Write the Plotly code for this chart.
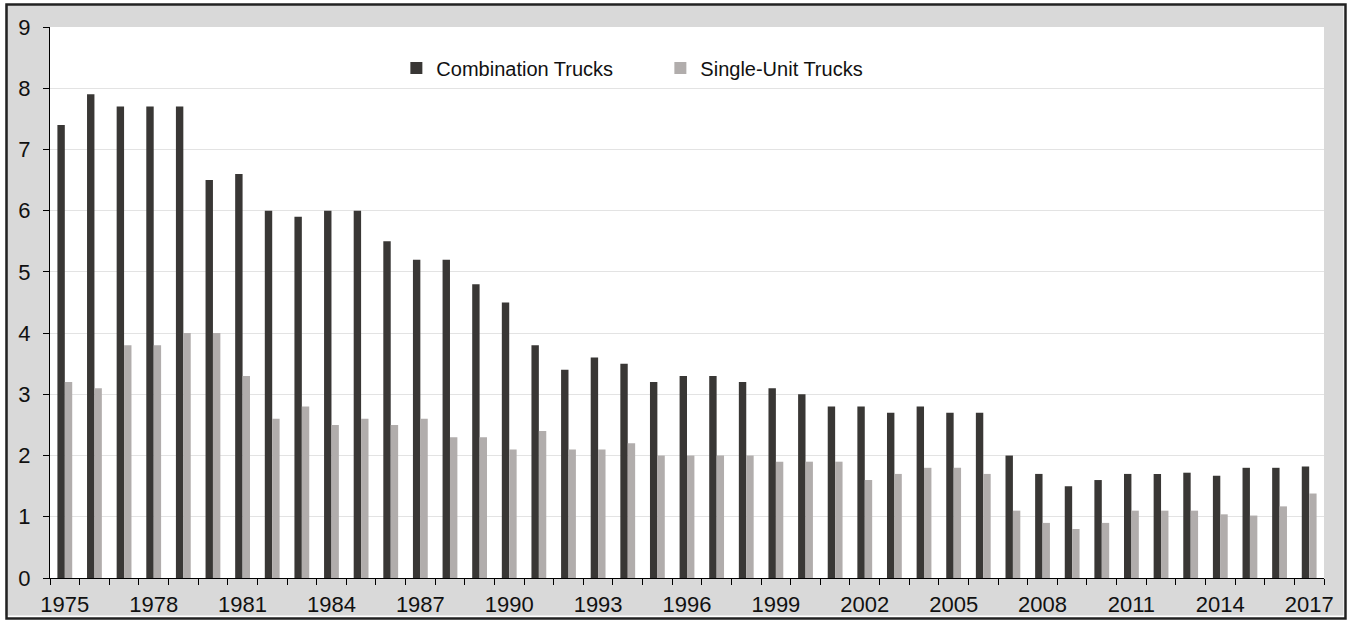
import plotly.graph_objects as go

years = list(range(1975, 2018))
combination = [7.4, 7.9, 7.7, 7.7, 7.7, 6.5, 6.6, 6.0, 5.9, 6.0, 6.0, 5.5, 5.2, 5.2, 4.8,
               4.5, 3.8, 3.4, 3.6, 3.5, 3.2, 3.3, 3.3, 3.2, 3.1, 3.0, 2.8, 2.8, 2.7, 2.8,
               2.7, 2.7, 2.0, 1.7, 1.5, 1.6, 1.7, 1.7, 1.72, 1.67, 1.8, 1.8, 1.82]
single_unit = [3.2, 3.1, 3.8, 3.8, 4.0, 4.0, 3.3, 2.6, 2.8, 2.5, 2.6, 2.5, 2.6, 2.3, 2.3,
               2.1, 2.4, 2.1, 2.1, 2.2, 2.0, 2.0, 2.0, 2.0, 1.9, 1.9, 1.9, 1.6, 1.7, 1.8,
               1.8, 1.7, 1.1, 0.9, 0.8, 0.9, 1.1, 1.1, 1.1, 1.04, 1.02, 1.17, 1.38]
tick_labels = [str(y) for y in range(1975, 2018, 3)]

W, H = 1348, 620
ML, MR, MT, MB = 49.5, 24, 27, 42
pw, ph = W - ML - MR, H - MT - MB

def px(x):
    return (x - ML) / pw

def py(y):
    return (H - MB - y) / ph

fig = go.Figure()
fig.add_trace(go.Bar(x=years, y=combination, name="Combination Trucks",
                     marker=dict(color="#393735", line=dict(width=0))))
fig.add_trace(go.Bar(x=years, y=single_unit, name="Single-Unit Trucks",
                     marker=dict(color="#b1adac", line=dict(width=0))))

fig.update_layout(
    width=W, height=H,
    margin=dict(l=ML, r=MR, t=MT, b=MB, autoexpand=False),
    paper_bgcolor="#d9d9d9",
    plot_bgcolor="white",
    barmode="group",
    bargap=0.5,
    bargroupgap=0,
    font=dict(family="Liberation Sans, Arial, sans-serif", color="#111111", size=22),
    showlegend=True,
    legend=dict(orientation="h", x=px(396), xanchor="left", y=py(68), yanchor="middle",
                bgcolor="rgba(0,0,0,0)", font=dict(size=20), entrywidth=219,
                entrywidthmode="pixels", traceorder="normal"),
    xaxis=dict(range=[1974.5, 2017.5], tickmode="array", tickvals=list(range(1975, 2018, 3)),
               ticktext=tick_labels, ticks="", showgrid=False, showline=True,
               linecolor="black", linewidth=1, zeroline=False, ticklabelstandoff=7,
               minor=dict(tickmode="linear", tick0=1974.5, dtick=1, ticks="outside",
                          ticklen=6, tickcolor="black", tickwidth=1, showgrid=False)),
    yaxis=dict(range=[0, 9], dtick=1, ticks="outside", ticklen=6, tickcolor="black",
               showline=True, linecolor="black", linewidth=1, showgrid=True,
               gridcolor="#e3e3e3", gridwidth=1, zeroline=False, ticklabelstandoff=8),
    shapes=[
        dict(type="rect", xref="paper", yref="paper", x0=px(0), x1=px(W), y0=py(H), y1=py(0),
             line=dict(color="white", width=9), fillcolor="rgba(0,0,0,0)", layer="above"),
        dict(type="rect", xref="paper", yref="paper", x0=px(6), x1=px(1345.5), y0=py(618.5),
             y1=py(4.5), line=dict(color="#222222", width=2.5), fillcolor="rgba(0,0,0,0)",
             layer="above"),
    ],
)

fig.write_html("out.html", config={"displayModeBar": False},
               post_script="document.body.style.margin='0';document.body.style.overflow='hidden';")
